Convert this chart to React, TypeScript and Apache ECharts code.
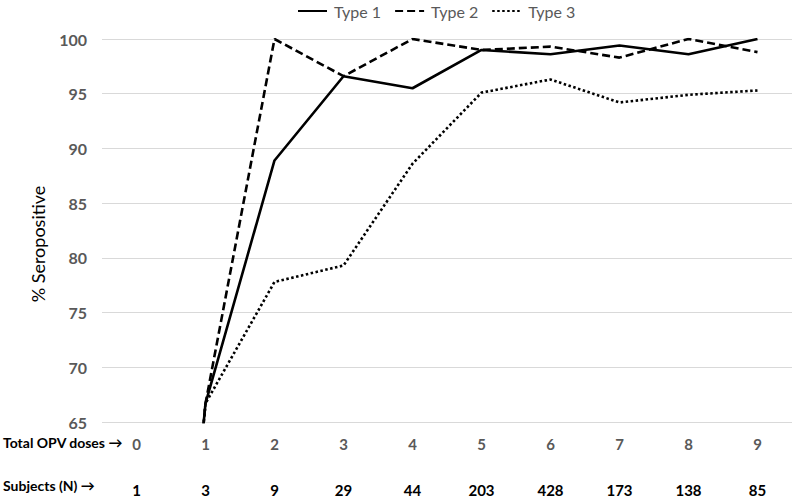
import React, { useEffect, useRef } from "react";
import * as echarts from "echarts";

const doses = ["0", "1", "2", "3", "4", "5", "6", "7", "8", "9"];
const subjects = ["1", "3", "9", "29", "44", "203", "428", "173", "138", "85"];
const type1 = [0, 66.7, 88.9, 96.6, 95.5, 99.0, 98.6, 99.4, 98.6, 100];
const type2 = [0, 66.7, 100, 96.6, 100, 99.0, 99.3, 98.3, 100, 98.8];
const type3 = [0, 66.7, 77.8, 79.3, 88.6, 95.1, 96.3, 94.2, 94.9, 95.3];
const yTicks = { min: 65, max: 100, interval: 5 };

const FONT = "Lato, 'Open Sans', sans-serif";

export default function App() {
  const ref = useRef<HTMLDivElement>(null);
  useEffect(() => {
    if (!ref.current) return;
    const chart = echarts.init(ref.current, undefined, { renderer: "svg" });
    const lineW = 2.6;
    chart.setOption({
      animation: false,
      backgroundColor: "#ffffff",
      textStyle: { fontFamily: FONT },
      legend: {
        top: -2,
        left: 292,
        itemWidth: 29,
        itemHeight: 14,
        itemGap: 13,
        itemStyle: { opacity: 0, borderWidth: 0 },
        textStyle: { color: "#595959", fontSize: 16, fontFamily: FONT, padding: [0, 0, 0, 2] },
        data: ["Type 1", "Type 2", "Type 3"],
      },
      grid: { left: 102, right: 3, top: 39, bottom: 81, containLabel: false },
      xAxis: [
        {
          type: "category",
          data: doses,
          position: "bottom",
          axisLine: { show: false },
          axisTick: { show: false },
          axisLabel: { color: "#595959", fontSize: 15, fontWeight: "bold", margin: 14, fontFamily: FONT },
        },
        {
          type: "category",
          data: subjects,
          position: "bottom",
          offset: 46,
          axisLine: { show: false },
          axisTick: { show: false },
          axisLabel: { color: "#000000", fontSize: 15, fontWeight: "bold", margin: 14, fontFamily: FONT },
        },
      ],
      yAxis: {
        type: "value",
        min: yTicks.min,
        max: yTicks.max,
        interval: yTicks.interval,
        axisLine: { show: false },
        axisTick: { show: false },
        axisLabel: { color: "#595959", fontSize: 16, fontWeight: "bold", margin: 15, fontFamily: FONT },
        splitLine: { lineStyle: { color: "#d9d9d9", width: 1 } },
      },
      graphic: [
        {
          type: "text",
          x: 38,
          y: 244,
          rotation: Math.PI / 2,
          style: {
            text: "% Seropositive",
            fill: "#000",
            font: `18px ${FONT}`,
            align: "center",
            verticalAlign: "middle",
          },
        },
        {
          type: "text",
          left: 3,
          top: 435,
          style: { text: "Total OPV doses →", fill: "#000", font: `bold 14px ${FONT}` },
        },
        {
          type: "text",
          left: 3,
          top: 478,
          style: { text: "Subjects (N) →", fill: "#000", font: `bold 14px ${FONT}` },
        },
      ],
      series: [
        {
          name: "Type 1",
          type: "line",
          data: type1,
          symbol: "none",
          clip: true,
          z: 5,
          lineStyle: { color: "#000", width: lineW, type: "solid" },
          itemStyle: { color: "#000" },
        },
        {
          name: "Type 2",
          type: "line",
          data: type2,
          symbol: "none",
          clip: true,
          z: 4,
          lineStyle: { color: "#000", width: lineW, type: [8, 4] },
          itemStyle: { color: "#000" },
        },
        {
          name: "Type 3",
          type: "line",
          data: type3,
          symbol: "none",
          clip: true,
          z: 3,
          lineStyle: { color: "#000", width: lineW, type: [2.5, 2.5] },
          itemStyle: { color: "#000" },
        },
      ],
    });
    return () => chart.dispose();
  }, []);
  return <div ref={ref} style={{ width: 795, height: 503, position: "absolute", left: 0, top: 0 }} />;
}
